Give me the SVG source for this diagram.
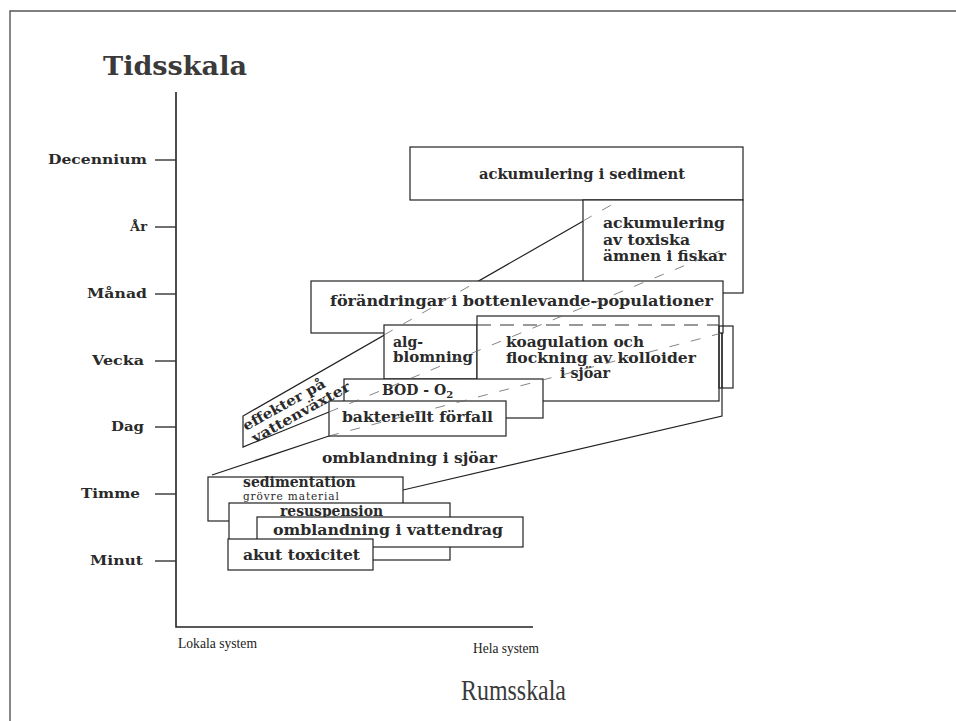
<svg xmlns="http://www.w3.org/2000/svg" width="956" height="721" viewBox="0 0 956 721">
  <style>
    .frame { stroke: #555; stroke-width: 1.4; fill: none; }
    .axis { stroke: #222; stroke-width: 1.6; fill: none; }
    .tick { stroke: #333; stroke-width: 1.4; }
    .box { fill: #fff; stroke: #222; stroke-width: 1.2; }
    .edge { fill: none; stroke: #222; stroke-width: 1.2; }
    .hidden { fill: none; stroke: #666; stroke-width: 0.8; stroke-dasharray: 10 12; }
    .hidden2 { fill: none; stroke: #333; stroke-width: 1; stroke-dasharray: 14 9; }
    .lbl { font-family: "DejaVu Serif", "Liberation Serif", serif; font-weight: bold; font-size: 14px; fill: #2a2a2a; }
    .tk { font-family: "DejaVu Serif", "Liberation Serif", serif; font-weight: bold; font-size: 13px; fill: #2a2a2a; text-anchor: end; }
    .title { font-family: "DejaVu Serif", "Liberation Serif", serif; font-weight: bold; font-size: 26px; fill: #3a3a3a; }
    .title2 { font-family: "Liberation Serif", "DejaVu Serif", serif; font-size: 29px; fill: #3a3a3a; }
    .ax { font-family: "Liberation Serif", "DejaVu Serif", serif; font-size: 14px; fill: #222; }
  </style>

  <!-- page frame -->
  <path class="frame" d="M10,721 V11 H956"/>

  <!-- axes -->
  <g id="axes">
    <path class="axis" d="M176,92 V627 H533"/>
    <g class="tick">
      <line x1="155" y1="160" x2="176" y2="160"/>
      <line x1="155" y1="227" x2="176" y2="227"/>
      <line x1="155" y1="294" x2="176" y2="294"/>
      <line x1="155" y1="361" x2="176" y2="361"/>
      <line x1="155" y1="427" x2="176" y2="427"/>
      <line x1="155" y1="494" x2="176" y2="494"/>
      <line x1="155" y1="561" x2="176" y2="561"/>
    </g>
    <text class="tk" x="147" y="164" textLength="99" lengthAdjust="spacingAndGlyphs">Decennium</text>
    <text class="tk" x="147" y="231">År</text>
    <text class="tk" x="147" y="298" textLength="60" lengthAdjust="spacingAndGlyphs">Månad</text>
    <text class="tk" x="144" y="365" textLength="52" lengthAdjust="spacingAndGlyphs">Vecka</text>
    <text class="tk" x="144" y="431" textLength="33" lengthAdjust="spacingAndGlyphs">Dag</text>
    <text class="tk" x="140" y="498" textLength="59" lengthAdjust="spacingAndGlyphs">Timme</text>
    <text class="tk" x="143" y="565" textLength="53" lengthAdjust="spacingAndGlyphs">Minut</text>
    <text class="title" x="103" y="75" textLength="144" lengthAdjust="spacingAndGlyphs">Tidsskala</text>
    <text class="ax" x="178" y="648" textLength="79" lengthAdjust="spacingAndGlyphs">Lokala system</text>
    <text class="ax" x="473" y="653" textLength="66" lengthAdjust="spacingAndGlyphs">Hela system</text>
    <text class="title2" x="461" y="700" textLength="105" lengthAdjust="spacingAndGlyphs">Rumsskala</text>
  </g>

  <!-- large background regions drawn as open outlines -->
  <g id="connectors">
    <!-- effekter på vattenväxter band -->
    <path class="edge" d="M620,200 L243,416 V447 L329,412"/>
    <!-- omblandning i sjöar band -->
    <path class="edge" d="M212,475 L329,436 L722,333 V416 L403,490"/>
  </g>

  <g id="n-sediment">
    <rect class="box" x="410" y="147" width="333" height="53"/>
    <text class="lbl" x="479" y="179" textLength="206" lengthAdjust="spacingAndGlyphs">ackumulering i sediment</text>
  </g>

  <g id="n-toxiska">
    <rect class="box" x="583" y="200" width="160" height="93"/>
    <text class="lbl" x="603" y="228" textLength="122" lengthAdjust="spacingAndGlyphs">ackumulering</text>
    <text class="lbl" x="603" y="245" textLength="87" lengthAdjust="spacingAndGlyphs">av toxiska</text>
    <text class="lbl" x="603" y="261" textLength="123" lengthAdjust="spacingAndGlyphs">ämnen i fiskar</text>
  </g>

  <g id="n-bottenlevande">
    <rect class="box" x="311" y="281" width="412" height="52"/>
    <text class="lbl" x="330" y="306" textLength="383" lengthAdjust="spacingAndGlyphs">förändringar i bottenlevande-populationer</text>
  </g>

  <g id="n-algblomning">
    <rect class="box" x="384" y="325" width="93" height="54"/>
    <text class="lbl" x="393" y="347">alg-</text>
    <text class="lbl" x="393" y="362" textLength="80" lengthAdjust="spacingAndGlyphs">blomning</text>
  </g>

  <g id="n-koagulation">
    <rect class="box" x="477" y="316" width="242" height="85"/>
    <rect class="edge" x="719" y="326" width="14" height="62"/>
    <text class="lbl" x="506" y="347" textLength="138" lengthAdjust="spacingAndGlyphs">koagulation och</text>
    <text class="lbl" x="506" y="363" textLength="190" lengthAdjust="spacingAndGlyphs">flockning av kolloider</text>
    <text class="lbl" x="560" y="378" textLength="50" lengthAdjust="spacingAndGlyphs">i sjöar</text>
  </g>

  <g id="n-bod">
    <rect class="box" x="344" y="379" width="199" height="39"/>
    <text class="lbl" x="382" y="395">BOD - O<tspan font-size="10" dy="3">2</tspan></text>
  </g>

  <g id="n-bakteriellt">
    <rect class="box" x="329" y="401" width="177" height="35"/>
    <text class="lbl" x="342" y="422" textLength="151" lengthAdjust="spacingAndGlyphs">bakteriellt förfall</text>
  </g>

  <!-- hidden continuations of the band edges -->
  <g id="hidden-edges">
    <path class="hidden" d="M384,335 L480,280 M583,221 L620,200"/>
    <path class="hidden" d="M329,412 L720,251"/>
    <path class="hidden" d="M329,436 L722,333"/>
    <path class="hidden2" d="M477,325 H719"/>
    <line class="edge" x1="722" y1="333" x2="722" y2="388"/>
  </g>

  <g id="n-effekter">
    <g transform="translate(246,431) rotate(-29)">
      <text class="lbl" x="0" y="0" font-size="13.5" textLength="92" lengthAdjust="spacingAndGlyphs">effekter på</text>
      <text class="lbl" x="2" y="15" font-size="13.5" textLength="110" lengthAdjust="spacingAndGlyphs">vattenväxter</text>
    </g>
  </g>

  <g id="n-sjoar">
    <text class="lbl" x="322" y="463" textLength="175" lengthAdjust="spacingAndGlyphs">omblandning i sjöar</text>
  </g>

  <g id="n-sedimentation">
    <rect class="box" x="208" y="477" width="195" height="44"/>
    <text class="lbl" x="243" y="487" font-size="12"><tspan x="243" y="487">sedimentation</tspan><tspan x="243" y="499.5" font-size="10.5" font-weight="normal" letter-spacing="0.9">grövre material</tspan></text>
  </g>

  <g id="n-resuspension">
    <rect class="box" x="229" y="503" width="221" height="57"/>
    <text class="lbl" x="280" y="516" font-size="13" textLength="103" lengthAdjust="spacingAndGlyphs">resuspension</text>
  </g>

  <g id="n-vattendrag">
    <rect class="box" x="257" y="517" width="266" height="30"/>
    <text class="lbl" x="273" y="535" textLength="230" lengthAdjust="spacingAndGlyphs">omblandning i vattendrag</text>
  </g>

  <g id="n-akut">
    <rect class="box" x="228" y="539" width="145" height="31"/>
    <text class="lbl" x="243" y="560" textLength="117" lengthAdjust="spacingAndGlyphs">akut toxicitet</text>
  </g>
</svg>
